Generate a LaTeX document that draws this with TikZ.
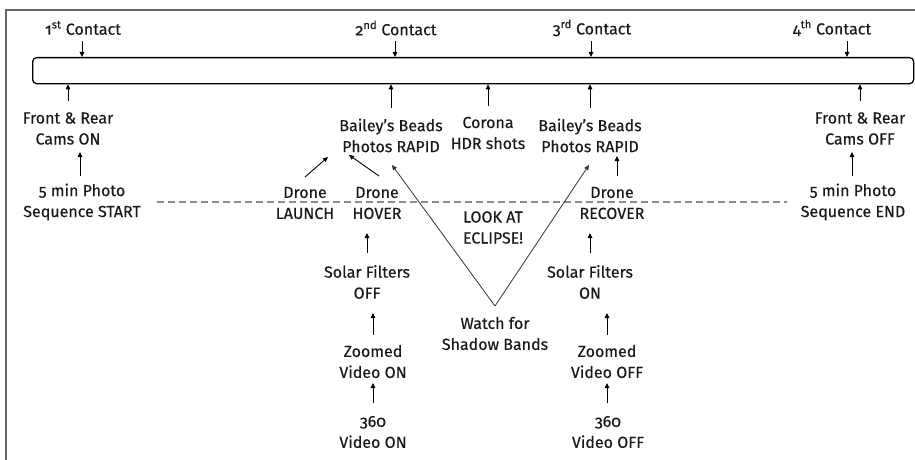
\documentclass[tikz,border=0pt]{standalone}
\usepackage{fontspec}
\setmainfont{Fira Sans}[Numbers=OldStyle,FakeBold=0.3]
\usetikzlibrary{arrows.meta}
\begin{document}
\begin{tikzpicture}[x=1pt,y=-1pt,
  lbl/.style={inner sep=0pt,align=center,text=black!90,font=\fontsize{16}{21}\selectfont},
  arr/.style={-{Triangle[length=5pt,width=4.5pt]},line width=0.9pt,black},
  vee/.style={-{Triangle[length=5pt,width=4.5pt]},line width=0.8pt,black!80},
  dashln/.style={dash pattern=on 7pt off 4pt,line width=1.4pt,black!45},
  frame/.style={line width=1.8pt,black!60}]
\useasboundingbox (0,0) rectangle (915,460);
\draw[frame] (915,10) -- (6,10) -- (6,460);
\node[draw,line width=1.3pt,rounded corners=4pt,minimum width=881pt,minimum height=26pt,inner sep=0pt,anchor=north west] (box) at (32,57) {};
% contacts
\node[lbl] (c1) at (83,28) {1\textsuperscript{st} Contact};
\node[lbl] (c2) at (396,28) {2\textsuperscript{nd} Contact};
\node[lbl] (c3) at (592,28) {3\textsuperscript{rd} Contact};
\node[lbl] (c4) at (832,28) {4\textsuperscript{th} Contact};
\coordinate (k1) at ([shift={(-1,13)}]c1.center);
\coordinate (k2) at ([shift={(-1,13)}]c2.center);
\coordinate (k3) at ([shift={(-1,13)}]c3.center);
\coordinate (k4) at ([shift={(15,13)}]c4.center);
\foreach \k in {k1,k2,k3,k4} \draw[arr] (\k) -- (\k |- box.north);
% labels
\node[lbl] (fr1) at (68,128.5) {Front \& Rear\\Cams ON};
\node[lbl] (ps1) at (82,202) {5 min Photo\\Sequence START};
\node[lbl] (fr4) at (860,128.5) {Front \& Rear\\Cams OFF};
\node[lbl] (ps4) at (853,202) {5 min Photo\\Sequence END};
\node[lbl] (bb1) at (391,135.5) {Bailey’s Beads\\Photos RAPID};
\node[lbl] (cor) at (488,133) {Corona\\HDR shots};
\node[lbl] (bb2) at (590,135.5) {Bailey’s Beads\\Photos RAPID};
\node[lbl] (launch) at (305,203) {Drone\\LAUNCH};
\node[lbl] (hover) at (377,203) {Drone\\HOVER};
\node[lbl] (look) at (493,227.5) {LOOK AT\\ECLIPSE!};
\node[lbl] (recover) at (612,203) {Drone\\RECOVER};
\node[lbl] (sf1) at (367,282) {Solar Filters\\OFF};
\node[lbl] (zv1) at (373,361.5) {Zoomed\\Video ON};
\node[lbl] (v1) at (373,432) {360\\Video ON};
\node[lbl] (watch) at (495,333.5) {Watch for\\Shadow Bands};
\node[lbl] (sf2) at (590,282) {Solar Filters\\ON};
\node[lbl] (zv2) at (607,361.5) {Zoomed\\Video OFF};
\node[lbl] (v2) at (608,432) {360\\Video OFF};
% dashed line
\draw[dashln] ([shift={(75,0)}]ps1.center) -- ([shift={(-66,0)}]ps4.center);
% arrows to box bottom
\coordinate (u1) at ([shift={(0,-27.5)}]fr1.center);
\coordinate (u2) at ([shift={(0,-27.5)}]bb1.center);
\coordinate (u3) at ([shift={(0,-27)}]cor.center);
\coordinate (u4) at ([shift={(0,-27.5)}]bb2.center);
\coordinate (u5) at ([shift={(0,-27.5)}]fr4.center);
\foreach \u in {u1,u2,u3,u4,u5} \draw[arr] (\u) -- (\u |- box.south);
% second tier
\draw[arr] ([shift={(-2,-26)}]ps1.center) -- ([shift={(12,23.5)}]fr1.center);
\draw[arr] ([shift={(-1,-26)}]ps4.center) -- ([shift={(-8,23.5)}]fr4.center);
\draw[arr] ([shift={(0,-26)}]launch.center) -- ([shift={(-63,21.5)}]bb1.center);
\draw[arr] ([shift={(2,-27)}]hover.center) -- ([shift={(-42,19.5)}]bb1.center);
\draw[arr] ([shift={(5,-27)}]recover.center) -- ([shift={(27,20.5)}]bb2.center);
\coordinate (vtx) at ([shift={(0,-27.5)}]watch.center);
\draw[vee] (vtx) -- ([shift={(1,29.5)}]bb1.center);
\draw[vee] (vtx) -- ([shift={(-1,29.5)}]bb2.center);
% bottom chains
\draw[arr] ([shift={(0,-29)}]sf1.center) -- ([shift={(0,30)}]hover.center -| sf1.center);
\draw[arr] ([shift={(0,-26.5)}]zv1.center) -- ([shift={(0,31)}]sf1.center -| zv1.center);
\draw[arr] ([shift={(0,-29)}]v1.center) -- ([shift={(0,21.5)}]zv1.center);
\draw[arr] ([shift={(0,-29)}]sf2.center) -- ([shift={(0,30)}]recover.center -| sf2.center);
\draw[arr] ([shift={(0,-26.5)}]zv2.center) -- ([shift={(0,31)}]sf2.center -| zv2.center);
\draw[arr] ([shift={(-1,-29)}]v2.center) -- ([shift={(0,21.5)}]zv2.center);
\end{tikzpicture}
\end{document}
